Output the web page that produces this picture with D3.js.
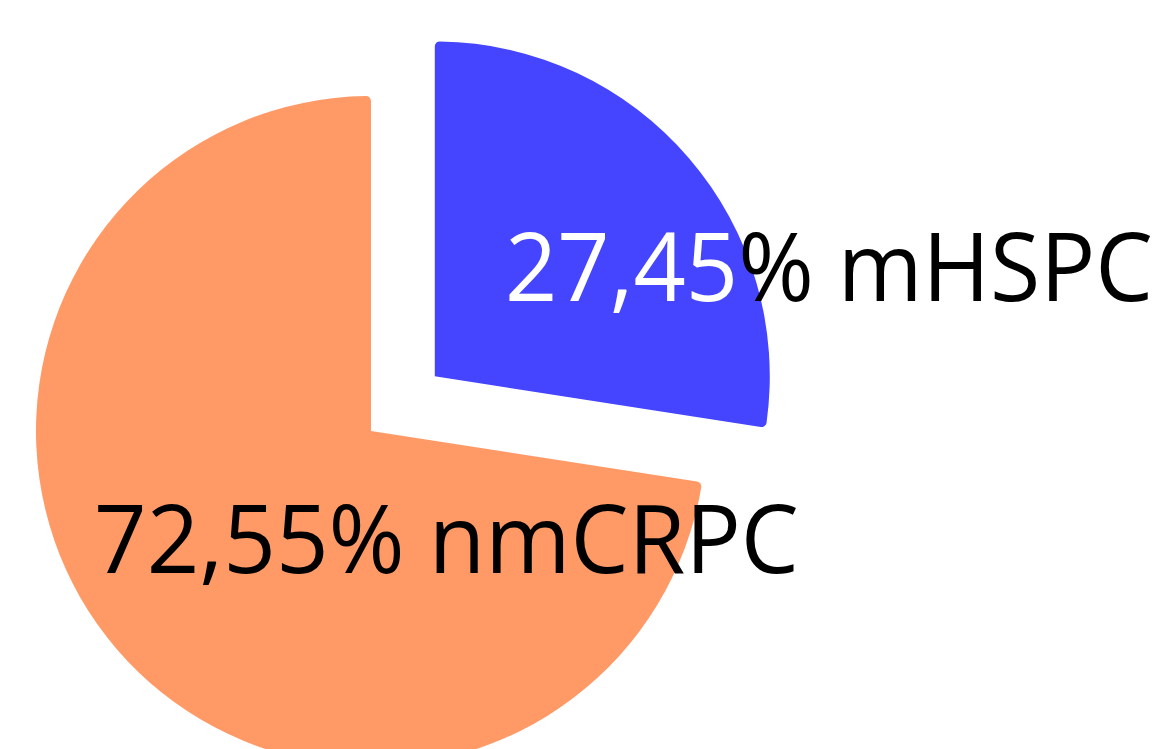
<!DOCTYPE html>
<html>
<head>
<meta charset="utf-8">
<script src="https://cdn.jsdelivr.net/npm/d3@7"></script>
<style>
  html, body { margin: 0; padding: 0; background: #fff; overflow: hidden; }
  svg { display: block; }
</style>
</head>
<body>
<svg id="chart" width="1167" height="749"></svg>
<script>
// Share of patients by disease stage
const categories = ["mHSPC", "nmCRPC"];
const shares = [27.45, 72.55];
const valueLabels = ["27,45", "72,55"];
const sliceColors = ["#4545FF", "#FF9966"];

const width = 1167, height = 749;
const cx = 371, cy = 431, radius = 335;
const explode = [84, 0];          // offset of each slice along its mid-angle

const svg = d3.select("#chart");

const pie = d3.pie().sort(null).value(d => d.value);
const arcs = pie(categories.map((c, i) => ({ name: c, value: shares[i], i })));

const arc = d3.arc().innerRadius(0).outerRadius(radius).cornerRadius(5);

const g = svg.append("g").attr("transform", `translate(${cx},${cy})`);

function offset(d) {
  const mid = (d.startAngle + d.endAngle) / 2;
  const k = explode[d.data.i];
  return [Math.sin(mid) * k, -Math.cos(mid) * k];
}

g.selectAll("path.slice")
  .data(arcs)
  .join("path")
  .attr("class", "slice")
  .attr("fill", (d, i) => sliceColors[i])
  .attr("transform", d => `translate(${offset(d)})`)
  .attr("d", arc);

// Labels: value in white on the exploded slice, rest of the label in black.
// Each label is squeezed horizontally to a fixed run width.
const labelSpecs = [
  { x: 505, y: 301, len: 648, valueFill: "#fff" },
  { x: 94,  y: 573, len: 705, valueFill: "#000" }
];

const labels = svg.selectAll("text.label")
  .data(arcs)
  .join("text")
  .attr("class", "label")
  .attr("x", 0)
  .attr("y", 0)
  .attr("font-family", "'Open Sans', sans-serif")
  .attr("font-size", 95);

labels.append("tspan")
  .attr("fill", (d, i) => labelSpecs[i].valueFill)
  .text((d, i) => valueLabels[i]);

labels.append("tspan")
  .attr("fill", "#000")
  .text(d => "% " + d.data.name);

labels.each(function(d, i) {
  const s = labelSpecs[i];
  const natural = this.getComputedTextLength();
  const sx = s.len / natural;
  d3.select(this).attr("transform", `translate(${s.x},${s.y}) scale(${sx},1)`);
});
</script>
</body>
</html>
